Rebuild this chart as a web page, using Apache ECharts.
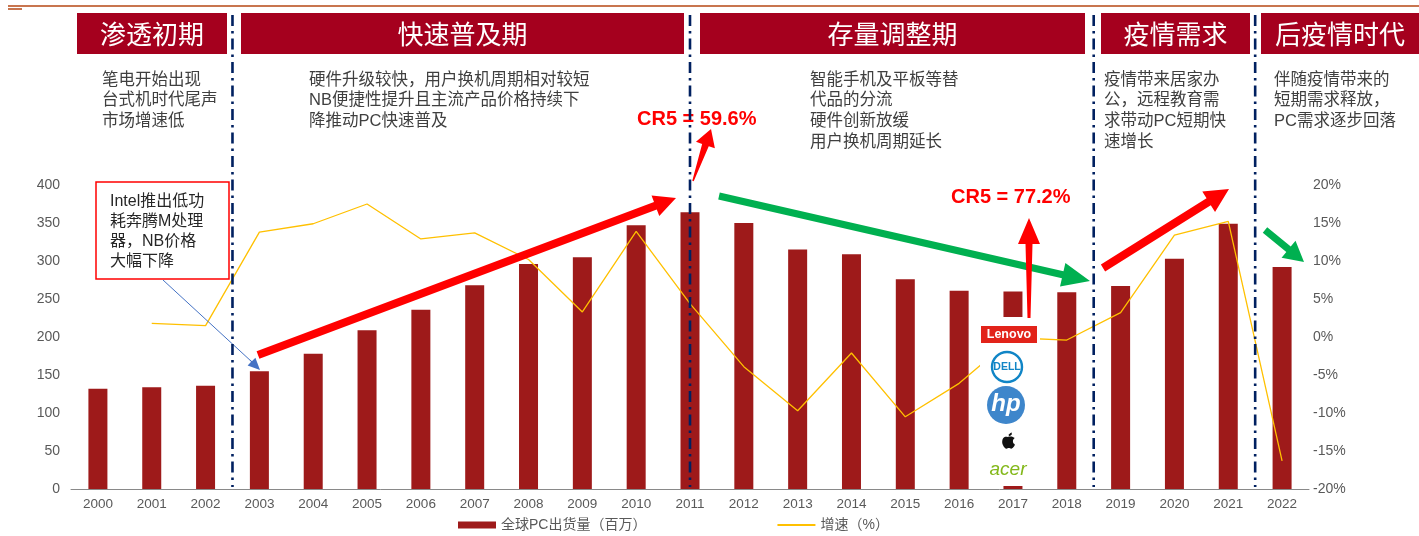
<!DOCTYPE html>
<html>
<head>
<meta charset="utf-8">
<script src="https://cdn.jsdelivr.net/npm/echarts@6/dist/echarts.min.js"></script>
<style>
html, body { margin: 0; padding: 0; background: #fff; }
#main { width: 1419px; height: 536px; }
</style>
</head>
<body>
<div id="main"></div>
<script>
// 全球PC出货量及增速
var years = ['2000','2001','2002','2003','2004','2005','2006','2007','2008','2009','2010','2011',
             '2012','2013','2014','2015','2016','2017','2018','2019','2020','2021','2022'];
var shipments = [132,134,136,155,178,209,236,268,296,305,347,364,350,315,309,276,261,260,259,267,303,349,292];
var growth = [null,1.8,1.5,13.8,14.9,17.5,12.9,13.7,10.2,3.3,13.9,4.4,-3.9,-9.7,-2.1,-10.5,-6.1,-0.1,-0.4,3.2,13.4,15.2,-16.3];
var leftTicks = {min: 0, max: 400, step: 50};
var rightTicks = {min: -20, max: 20, step: 5};

var phases = ['渗透初期','快速普及期','存量调整期','疫情需求','后疫情时代'];
var notes = [
    '笔电开始出现\n台式机时代尾声\n市场增速低',
    '硬件升级较快，用户换机周期相对较短\nNB便捷性提升且主流产品价格持续下\n降推动PC快速普及',
    '智能手机及平板等替\n代品的分流\n硬件创新放缓\n用户换机周期延长',
    '疫情带来居家办\n公，远程教育需\n求带动PC短期快\n速增长',
    '伴随疫情带来的\n短期需求释放，\nPC需求逐步回落'
];

var FONT = '"Liberation Sans", "Noto Sans CJK SC", sans-serif';
var chart = echarts.init(document.getElementById('main'));

var option = {
    animation: false,
    textStyle: { fontFamily: FONT },
    grid: { left: 71, right: 110, top: 185, bottom: 47 },
    legend: {
        left: 453,
        top: 513,
        itemGap: 131,
        itemWidth: 38,
        itemHeight: 7,
        textStyle: { fontSize: 14, color: '#595959', fontFamily: FONT },
        data: [
            { name: '全球PC出货量（百万）', icon: 'rect' },
            { name: '增速（%）', icon: 'path://M0,0 L38,0 L38,1.8 L0,1.8 Z' }
        ]
    },
    xAxis: {
        type: 'category',
        data: years,
        axisLine: { lineStyle: { color: '#898989' } },
        axisTick: { inside: true, length: 5, lineStyle: { color: '#898989' } },
        axisLabel: { color: '#595959', fontSize: 13.5, margin: 9 }
    },
    yAxis: [
        {
            type: 'value', min: leftTicks.min, max: leftTicks.max, interval: leftTicks.step,
            splitLine: { show: false },
            axisLabel: { color: '#595959', fontSize: 14, margin: 11 }
        },
        {
            type: 'value', min: rightTicks.min, max: rightTicks.max, interval: rightTicks.step,
            splitLine: { show: false },
            axisLabel: { color: '#595959', fontSize: 14, margin: 4, formatter: '{value}%' }
        }
    ],
    series: [
        {
            name: '全球PC出货量（百万）',
            type: 'bar',
            data: shipments,
            barWidth: 19,
            itemStyle: { color: '#9E1A1A' },
            z: 2
        },
        {
            name: '增速（%）',
            type: 'line',
            yAxisIndex: 1,
            data: growth,
            symbol: 'none',
            lineStyle: { color: '#FFC000', width: 1.3 },
            itemStyle: { color: '#FFC000' },
            z: 3
        }
    ]
};
chart.setOption(option);

// ---- annotations ----
function xAt(i) { return chart.convertToPixel({ xAxisIndex: 0 }, years[i]); }
function between(i) { return (xAt(i) + xAt(i + 1)) / 2; }

// arrow polygon, w1 = tail width, w2 = shaft width at head
function arrow(x1, y1, x2, y2, w1, w2, hl, hw, color) {
    var dx = x2 - x1, dy = y2 - y1, L = Math.sqrt(dx * dx + dy * dy);
    var ux = dx / L, uy = dy / L, nx = -uy, ny = ux;
    var bx = x2 - ux * hl, by = y2 - uy * hl;
    return {
        type: 'polygon', z: 20,
        shape: { points: [
            [x1 + nx * w1 / 2, y1 + ny * w1 / 2],
            [bx + nx * w2 / 2, by + ny * w2 / 2],
            [bx + nx * hw / 2, by + ny * hw / 2],
            [x2, y2],
            [bx - nx * hw / 2, by - ny * hw / 2],
            [bx - nx * w2 / 2, by - ny * w2 / 2],
            [x1 - nx * w1 / 2, y1 - ny * w1 / 2]
        ] },
        style: { fill: color }
    };
}

var g = [];
// top rule
g.push({ type: 'rect', shape: { x: 8, y: 5, width: 1411, height: 2 }, style: { fill: '#C8754F' } });
g.push({ type: 'rect', shape: { x: 8, y: 8, width: 14, height: 2 }, style: { fill: '#C8754F' } });

// phase headers
var boxes = [[77, 227], [241, 684], [700, 1085], [1101, 1250], [1261, 1419]];
boxes.forEach(function (b, i) {
    g.push({ type: 'rect', z: 5, shape: { x: b[0], y: 13, width: b[1] - b[0], height: 41 }, style: { fill: '#A5001E' } });
    g.push({ type: 'text', z: 6, style: {
        text: phases[i], x: (b[0] + b[1]) / 2, y: 34, align: 'center', verticalAlign: 'middle',
        fill: '#fff', fontSize: 26, fontFamily: '"Noto Sans CJK SC", sans-serif'
    } });
});

// phase notes
var noteX = [102, 309, 810, 1104, 1274];
noteX.forEach(function (x, i) {
    g.push({ type: 'text', z: 6, style: {
        text: notes[i], x: x, y: 70, verticalAlign: 'top', lineHeight: 20.6,
        fill: '#3F3F3F', fontSize: 16.5, fontFamily: FONT
    } });
});

// dash-dot separators
[between(2), xAt(11), between(18), between(21)].forEach(function (x) {
    g.push({ type: 'line', z: 25, shape: { x1: x, y1: 15, x2: x, y2: 487 },
        style: { stroke: '#002060', lineWidth: 2.6, lineDash: [11, 5, 2.5, 5] } });
});

// Intel note box + pointer
g.push({ type: 'rect', z: 8, shape: { x: 96, y: 182, width: 133, height: 97 },
    style: { fill: '#fff', stroke: '#FF0000', lineWidth: 1.5 } });
g.push({ type: 'text', z: 9, style: {
    text: 'Intel推出低功\n耗奔腾M处理\n器，NB价格\n大幅下降', x: 110, y: 192, verticalAlign: 'top',
    lineHeight: 19.8, fill: '#262626', fontSize: 16, fontFamily: FONT
} });
g.push({ type: 'line', z: 8, shape: { x1: 163, y1: 280, x2: 252, y2: 362 }, style: { stroke: '#4472C4', lineWidth: 1 } });
g.push(arrow(250, 360, 260, 370, 1, 1, 12, 11, '#4472C4'));

// trend arrows
g.push(arrow(258, 355, 676, 198, 8, 8, 22, 22, '#FF0000'));
g.push(arrow(693, 181, 711, 129, 1.5, 7, 17, 20, '#FF0000'));
g.push(arrow(719, 196, 1090, 281, 7, 7, 28, 24, '#00B050'));
g.push(arrow(1103, 268, 1229, 189, 8, 8, 24, 24, '#FF0000'));
g.push(arrow(1265, 230, 1304, 262, 7, 7, 20, 22, '#00B050'));

// CR5 labels
g.push({ type: 'text', z: 22, style: { text: 'CR5 = 59.6%', x: 637, y: 119, verticalAlign: 'middle',
    fill: '#FF0000', fontSize: 20, fontWeight: 'bold', fontFamily: FONT } });
g.push({ type: 'text', z: 22, style: { text: 'CR5 = 77.2%', x: 951, y: 197, verticalAlign: 'middle',
    fill: '#FF0000', fontSize: 20, fontWeight: 'bold', fontFamily: FONT } });

// brand logos on 2017
g.push({ type: 'rect', z: 15, shape: { x: 980, y: 317, width: 60, height: 169 }, style: { fill: '#fff' } });
g.push(arrow(1029, 318, 1029, 218, 3, 7, 26, 22, '#FF0000'));
g.push({ type: 'rect', z: 16, shape: { x: 981, y: 326, width: 56, height: 17 }, style: { fill: '#E2231A' } });
g.push({ type: 'text', z: 17, style: { text: 'Lenovo', x: 1009, y: 334.5, align: 'center', verticalAlign: 'middle',
    fill: '#fff', fontSize: 12.5, fontWeight: 'bold', fontFamily: FONT } });
g.push({ type: 'circle', z: 16, shape: { cx: 1007, cy: 367, r: 15 }, style: { fill: '#fff', stroke: '#1085C6', lineWidth: 2.4 } });
g.push({ type: 'text', z: 17, style: { text: 'DELL', x: 1007, y: 367, align: 'center', verticalAlign: 'middle',
    fill: '#1085C6', fontSize: 10.5, fontWeight: 'bold', fontFamily: FONT } });
g.push({ type: 'circle', z: 16, shape: { cx: 1006, cy: 405, r: 19 }, style: { fill: '#3E86CB' } });
g.push({ type: 'text', z: 17, style: { text: 'hp', x: 1006, y: 404, align: 'center', verticalAlign: 'middle',
    fill: '#fff', fontSize: 24, fontWeight: 'bold', fontStyle: 'italic', fontFamily: FONT } });
// apple
var appleBody = [[8,6.3],[10,5.8],[12.4,5.8],[14.5,6.8],[15.4,7.4],[14,9],[13.6,10.6],[14,12.6],[15.6,14.2],
    [14.5,16.6],[12,18.6],[9.3,17.9],[6.6,18.6],[4,16.5],[2.4,13],[2.5,9.5],[3.5,7.3],[5.5,6],[7,6.1]];
var appleLeaf = [[9.1,5.6],[9.6,3.5],[11,2.2],[12.5,1.7],[12.3,3.3],[11.3,4.8]];
function place(pts) { return pts.map(function (p) { return [1000 + p[0] * 0.95, 431 + p[1] * 0.95]; }); }
g.push({ type: 'polygon', z: 16, shape: { points: place(appleBody), smooth: 0.3 }, style: { fill: '#111' } });
g.push({ type: 'polygon', z: 16, shape: { points: place(appleLeaf) }, style: { fill: '#111' } });
g.push({ type: 'text', z: 17, style: { text: 'acer', x: 1008, y: 470, align: 'center', verticalAlign: 'middle',
    fill: '#83B81A', fontSize: 19, fontStyle: 'italic', fontFamily: FONT } });

chart.setOption({ graphic: g });
</script>
</body>
</html>
